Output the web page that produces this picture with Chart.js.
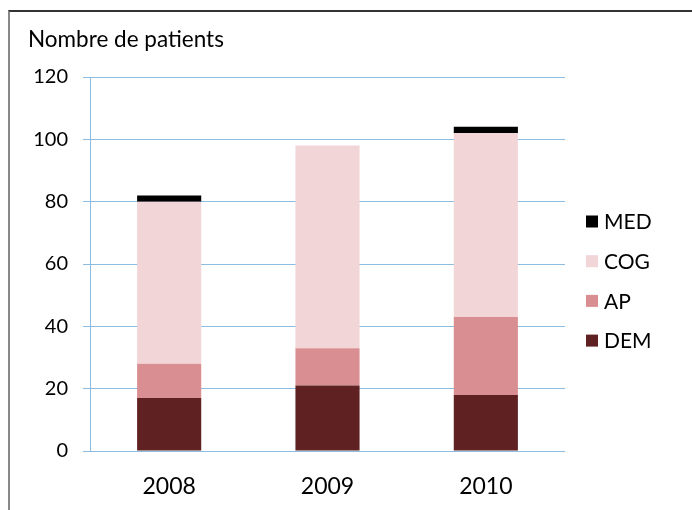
<!DOCTYPE html>
<html>
<head>
<meta charset="utf-8">
<script src="https://cdn.jsdelivr.net/npm/chart.js@4"></script>
<style>
  html, body { margin: 0; padding: 0; background: #fff; }
  #frame {
    position: absolute; left: 8px; top: 10px;
    width: 684px; height: 500px;
    border-top: 2px solid #333; border-left: 2px solid #888;
  }
  #chart { display: block; }
</style>
</head>
<body>
<div id="frame"><canvas id="chart" width="682" height="498"></canvas></div>
<script>
// data
var years = ['2008', '2009', '2010'];
var dem = [17, 21, 18];
var ap = [11, 12, 25];
var cog = [52, 65, 59];
var med = [2, 0, 2];
var yTicks = [0, 20, 40, 60, 80, 100, 120];

var FONT = 'Lato, "Open Sans", sans-serif';
var gridColor = '#8cbde0';

// legend drawn on the right, top series first
var sideLegend = {
  id: 'sideLegend',
  afterDraw: function (chart) {
    var ctx = chart.ctx;
    var area = chart.chartArea;
    var sets = chart.data.datasets.slice().reverse();
    var x = area.right + 21;
    var y0 = (area.top + area.bottom) / 2 - 42.5;
    ctx.save();
    ctx.font = '21px ' + FONT;
    ctx.textBaseline = 'middle';
    sets.forEach(function (ds, i) {
      var y = y0 + i * 39.7;
      ctx.fillStyle = ds.backgroundColor;
      ctx.fillRect(x, y - 6, 12, 12);
      ctx.fillStyle = '#000';
      ctx.fillText(ds.label, x + 18, y + 1);
    });
    ctx.restore();
  }
};

let chart = new Chart(document.getElementById('chart').getContext('2d'), {
  type: 'bar',
  data: {
    labels: years,
    datasets: [
      { label: 'DEM', data: dem, backgroundColor: '#5f2121' },
      { label: 'AP', data: ap, backgroundColor: '#d98f91' },
      { label: 'COG', data: cog, backgroundColor: '#f2d5d6' },
      { label: 'MED', data: med, backgroundColor: '#000000' }
    ]
  },
  options: {
    responsive: false,
    animation: false,
    barPercentage: 0.405,
    categoryPercentage: 1,
    layout: { padding: { left: 18, right: 127, top: 0, bottom: 0 } },
    plugins: {
      legend: { display: false },
      tooltip: { enabled: false },
      title: {
        display: true,
        text: 'Nombre de patients',
        align: 'start',
        color: '#000',
        font: { family: FONT, size: 22.5, weight: 'normal' },
        padding: { top: 14, bottom: 24 }
      }
    },
    scales: {
      x: {
        stacked: true,
        grid: { display: false, drawTicks: false },
        border: { display: false },
        ticks: { color: '#000', font: { family: FONT, size: 23 }, padding: 22 },
        afterFit: function (s) { s.height = 59; }
      },
      y: {
        stacked: true,
        min: 0,
        max: 120,
        afterBuildTicks: function (s) { s.ticks = yTicks.map(function (v) { return { value: v }; }); },
        grid: { color: gridColor, lineWidth: 1, tickLength: 7 },
        border: { display: true, color: gridColor, width: 1 },
        ticks: { color: '#000', font: { family: FONT, size: 20 }, padding: 15 },
        afterFit: function (s) { s.width = 62; }
      }
    }
  },
  plugins: [sideLegend]
});
</script>
</body>
</html>
